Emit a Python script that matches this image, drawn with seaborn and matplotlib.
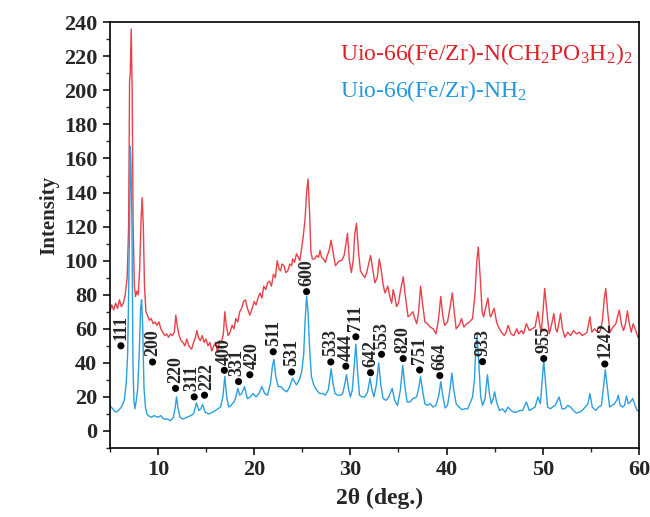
import numpy as np
import pandas as pd
import matplotlib
matplotlib.use('Agg')
import matplotlib.pyplot as plt
import seaborn as sns
from matplotlib.ticker import MultipleLocator

# XRD pattern of Uio-66(Fe/Zr)-NH2 (blue)
nh2_2theta = [5.0, 5.3, 5.6, 5.9, 6.2, 6.5, 6.7, 6.85, 6.95, 7.05, 7.12, 7.2, 7.3, 7.4, 7.5, 7.6,
              7.75, 7.9, 8.05, 8.2, 8.3, 8.42, 8.55, 8.7, 8.85, 9.0, 9.3, 9.6, 10.0, 10.3, 10.6, 11.0,
              11.3, 11.6, 11.8, 11.93, 12.1, 12.3, 12.6, 13.0, 13.4, 13.7, 14.0, 14.25, 14.45, 14.65,
              14.9, 15.3, 15.7, 16.1, 16.5, 16.75, 16.95, 17.15, 17.35, 17.6, 17.9, 18.1, 18.3, 18.5,
              18.7, 19.0, 19.3, 19.6, 19.9, 20.2, 20.5, 20.8, 21.1, 21.4, 21.7, 21.9, 22.05, 22.25,
              22.5, 22.8, 23.1, 23.4, 23.7, 24.0, 24.2, 24.4, 24.7, 24.95, 25.15, 25.3, 25.45, 25.6,
              25.75, 25.95, 26.2, 26.5, 26.8, 27.1, 27.4, 27.7, 27.85, 28.0, 28.2, 28.4, 28.7, 29.0,
              29.2, 29.4, 29.6, 29.8, 30.0, 30.2, 30.4, 30.57, 30.75, 30.95, 31.2, 31.5, 31.8, 32.05,
              32.25, 32.45, 32.7, 32.95, 33.15, 33.4, 33.7, 34.0, 34.35, 34.6, 34.9, 35.2, 35.45,
              35.65, 35.9, 36.2, 36.5, 36.9, 37.1, 37.3, 37.5, 37.75, 38.0, 38.3, 38.6, 38.9, 39.2,
              39.4, 39.6, 39.85, 40.1, 40.35, 40.55, 40.75, 41.0, 41.3, 41.6, 41.9, 42.2, 42.5, 42.7,
              42.9, 43.05, 43.18, 43.35, 43.55, 43.75, 44.0, 44.25, 44.45, 44.65, 44.85, 45.0, 45.2,
              45.5, 45.8, 46.1, 46.4, 46.7, 47.0, 47.3, 47.6, 47.9, 48.3, 48.6, 48.9, 49.2, 49.5,
              49.75, 49.95, 50.1, 50.3, 50.5, 50.8, 51.0, 51.3, 51.7, 52.0, 52.3, 52.6, 52.9, 53.2,
              53.5, 53.8, 54.1, 54.4, 54.7, 54.9, 55.15, 55.5, 55.8, 56.1, 56.3, 56.5, 56.7, 56.95,
              57.2, 57.45, 57.7, 57.85, 58.05, 58.3, 58.5, 58.7, 58.9, 59.1, 59.35, 59.6, 59.8, 60.0]
nh2_intensity = [15, 13, 11, 12, 14, 18, 28, 45, 80, 120, 167, 155, 120, 40, 18, 13,
                 18, 25, 45, 72, 77, 60, 25, 14, 10, 9, 8, 9, 8, 9, 7, 7,
                 6, 8, 14, 20, 13, 8, 7, 8, 9, 10, 16.5, 12, 13, 15.5,
                 11, 10, 11, 12.5, 14, 20, 32, 20, 14, 15, 17, 20, 25, 21,
                 22, 26, 19, 20, 22, 20, 22, 26, 22, 21, 28, 38, 42, 32,
                 26, 26, 24, 23, 26, 31, 29, 27, 30, 35, 45, 65, 79, 70,
                 50, 32, 27, 24, 22, 22, 21, 24, 30, 36.5, 28, 22, 21, 21,
                 22, 27, 33, 25, 20, 24, 38, 51, 35, 21, 20, 20, 23, 31,
                 24, 20, 27, 40, 28, 19, 18, 20, 25, 18, 15, 24, 38.5,
                 27, 17, 17, 19, 20, 25, 32, 24, 16, 15, 16, 14, 15, 21,
                 29, 21, 13.5, 15, 24, 34, 24, 16, 14, 12.5, 13, 13, 17, 20,
                 30, 50, 56, 40, 20, 15, 19, 33, 22, 16, 19, 23, 17,
                 12, 13, 11, 14, 12, 11, 11, 12, 12, 17, 12, 13, 14, 20,
                 16, 30, 41.5, 28, 14, 13, 14, 15, 20, 13, 13, 15, 14, 12,
                 10.5, 11, 12, 14, 16, 22, 14, 12, 14, 15, 25, 36, 26, 14,
                 15, 16, 18, 21, 15, 14, 15, 20.5, 16, 17, 19, 15, 12, 12]

# XRD pattern of Uio-66(Fe/Zr)-N(CH2PO3H2)2 (red)
po3_2theta = [5.0, 5.2, 5.4, 5.6, 5.8, 6.0, 6.2, 6.4, 6.6, 6.8, 6.95, 7.05, 7.12, 7.22, 7.32, 7.42,
              7.55, 7.67, 7.8, 7.95, 8.1, 8.25, 8.36, 8.48, 8.6, 8.75, 8.9, 9.1, 9.3, 9.5, 9.7, 9.9,
              10.1, 10.3, 10.5, 10.7, 10.9, 11.1, 11.3, 11.5, 11.7, 11.86, 12.0, 12.2, 12.4, 12.6,
              12.8, 13.0, 13.2, 13.5, 13.7, 13.9, 14.05, 14.2, 14.4, 14.6, 14.8, 15.0, 15.2, 15.4,
              15.6, 15.8, 16.0, 16.2, 16.4, 16.6, 16.8, 16.95, 17.1, 17.3, 17.5, 17.7, 17.9, 18.1,
              18.3, 18.5, 18.7, 18.9, 19.1, 19.3, 19.55, 19.8, 20.0, 20.2, 20.4, 20.6, 20.8, 21.0,
              21.2, 21.4, 21.6, 21.8, 22.0, 22.2, 22.4, 22.6, 22.75, 22.9, 23.1, 23.3, 23.5, 23.7,
              23.9, 24.0, 24.2, 24.4, 24.6, 24.75, 24.95, 25.1, 25.3, 25.45, 25.6, 25.75, 25.9,
              26.05, 26.3, 26.5, 26.7, 26.85, 27.0, 27.2, 27.4, 27.6, 27.8, 28.0, 28.2, 28.45, 28.7,
              28.9, 29.1, 29.35, 29.55, 29.7, 29.9, 30.1, 30.3, 30.45, 30.64, 30.85, 31.05, 31.2,
              31.5, 31.7, 31.9, 32.1, 32.3, 32.55, 32.8, 33.0, 33.2, 33.4, 33.6, 33.9, 34.1, 34.3,
              34.45, 34.65, 34.8, 35.0, 35.2, 35.5, 35.7, 36.0, 36.2, 36.5, 36.7, 36.9, 37.1, 37.3,
              37.5, 37.75, 38.0, 38.3, 38.6, 38.9, 39.15, 39.4, 39.6, 39.8, 40.1, 40.35, 40.6, 40.8,
              41.0, 41.3, 41.55, 41.8, 42.1, 42.4, 42.7, 42.95, 43.15, 43.3, 43.5, 43.7, 43.85,
              44.05, 44.3, 44.5, 44.6, 44.8, 44.95, 45.2, 45.4, 45.7, 46.0, 46.2, 46.4, 46.7, 47.0,
              47.3, 47.5, 47.8, 48.0, 48.3, 48.6, 48.9, 49.2, 49.5, 49.7, 49.85, 50.05, 50.2, 50.4,
              50.67, 50.9, 51.15, 51.35, 51.5, 51.7, 51.85, 52.05, 52.3, 52.6, 52.9, 53.2, 53.5,
              53.8, 54.1, 54.4, 54.6, 54.9, 55.1, 55.4, 55.7, 56.0, 56.2, 56.4, 56.55, 56.75, 57.0,
              57.3, 57.6, 57.95, 58.2, 58.4, 58.6, 58.8, 59.0, 59.2, 59.4, 59.6, 59.9, 60.0]
po3_intensity = [70, 74, 71, 75, 72, 77, 73, 75, 80, 90, 120, 205, 210, 236, 200, 120,
                 85, 79, 82, 80, 95, 125, 137, 120, 85, 70, 68, 65, 66, 63, 64, 62,
                 64, 60, 58, 56, 57, 55, 57, 56, 58, 68, 62, 56, 53, 52,
                 50, 54, 50, 48, 52, 55, 59, 55, 53, 56, 52, 54, 50, 52,
                 47, 50, 52, 46, 53, 52, 57, 70, 62, 56, 58, 62, 60, 66,
                 64, 70, 72, 76, 77, 72, 68, 72, 76, 74, 78, 81, 78, 85,
                 83, 87, 88, 85, 92, 90, 100, 95, 94, 98, 97, 93, 94, 98,
                 97, 101, 99, 104, 102, 100, 108, 114, 125, 140, 148, 130, 105,
                 101, 101, 103, 102, 106, 102, 101, 99, 103, 106, 112, 105, 97, 99,
                 100, 100, 103, 110, 116, 100, 93, 100, 115, 122, 105, 94, 92.5,
                 90, 93, 98, 103, 96, 87, 90, 101, 95, 86, 81, 85, 79, 75,
                 83, 78, 73, 75, 82, 90.5, 80, 67, 68, 70, 66, 63, 70, 85,
                 75, 64, 63, 61, 60, 57, 65, 79, 68, 62, 64, 72, 81, 70,
                 60, 62, 66, 61, 63, 64, 66, 80, 100, 108, 90, 70, 67,
                 72, 78, 68, 67, 70, 72, 64, 61, 58, 56, 58, 62, 57, 56,
                 60, 57, 59, 57, 63, 59, 60, 61, 70, 62, 58, 72, 83.7, 72,
                 57, 62, 69, 60, 58, 64, 69, 60, 55, 58, 56, 59, 57,
                 58, 56, 57, 58, 67, 58, 60, 58, 59, 65, 78, 83.7, 70, 58,
                 61, 63, 71, 62, 59, 63, 70.5, 63, 58, 63, 60, 55, 55]

# Miller index labels with marker positions
hkl_labels = ['111', '200', '220', '311', '222', '400', '331', '420', '511', '531', '600',
              '533', '444', '711', '642', '553', '820', '751', '664', '933', '955', '1242']
hkl_2theta = [6.15, 9.44, 11.83, 13.77, 14.84, 16.9, 18.38, 19.55, 21.98, 23.9, 25.45,
              27.97, 29.53, 30.57, 32.1, 33.24, 35.49, 37.2, 39.3, 43.74, 50.1, 56.45]
hkl_y = [50, 40.5, 25, 20, 21, 35.6, 29, 33, 46.5, 34.6, 81.8,
         40.5, 38, 55.3, 34.2, 45, 42.5, 35.8, 32.5, 40.7, 42.5, 39.3]

red = '#e8414a'
blue = '#2a9fe0'

sns.set_style('ticks')
plt.rcParams['font.family'] = ['Liberation Serif', 'DejaVu Serif']
plt.rcParams['mathtext.fontset'] = 'custom'
plt.rcParams['mathtext.rm'] = 'Liberation Serif'
plt.rcParams['mathtext.it'] = 'Liberation Serif:italic'

fig = plt.figure(figsize=(6.5, 5.17), dpi=100)
ax = fig.add_axes([0.169, 0.1335, 0.814, 0.8235])

df_nh2 = pd.DataFrame({'x': nh2_2theta, 'y': nh2_intensity})
df_po3 = pd.DataFrame({'x': po3_2theta, 'y': po3_intensity})
sns.lineplot(data=df_po3, x='x', y='y', color=red, lw=1.0, estimator=None, ax=ax)
sns.lineplot(data=df_nh2, x='x', y='y', color=blue, lw=1.0, estimator=None, ax=ax)

df_hkl = pd.DataFrame({'x': hkl_2theta, 'y': hkl_y})
sns.scatterplot(data=df_hkl, x='x', y='y', color='black', s=26, edgecolor='none', ax=ax, zorder=5)
# small horizontal nudges for the crowded pairs
nudge = {'311': -1.5, '222': 1.5, '331': -1.5, '420': 1.5}
for lab, xv, yv in zip(hkl_labels, hkl_2theta, hkl_y):
    ax.annotate(lab, (xv, yv), xytext=(nudge.get(lab, 0), 4), textcoords='offset points',
                rotation=90, ha='center', va='bottom', fontsize=13, fontweight='bold')

ax.text(0.435, 0.911, 'Uio-66(Fe/Zr)-N(CH$_2$PO$_3$H$_2$)$_2$', color='#e02028',
        fontsize=17, transform=ax.transAxes, va='baseline', ha='left')
ax.text(0.435, 0.825, 'Uio-66(Fe/Zr)-NH$_2$', color='#2299e0',
        fontsize=17, transform=ax.transAxes, va='baseline', ha='left')

ax.set_xlim(5, 60)
ax.set_ylim(-10, 240)
ax.xaxis.set_major_locator(MultipleLocator(10))
ax.xaxis.set_minor_locator(MultipleLocator(5))
ax.yaxis.set_major_locator(MultipleLocator(20))
ax.yaxis.set_minor_locator(MultipleLocator(10))
ax.tick_params(which='major', direction='out', length=5, width=1.1, labelsize=16, pad=4,
               top=False, right=False, color='black')
ax.tick_params(which='minor', direction='out', length=3, width=1.0, top=False, right=False)
for lbl in ax.get_xticklabels() + ax.get_yticklabels():
    lbl.set_fontweight('bold')
for sp in ax.spines.values():
    sp.set_linewidth(1.2)
    sp.set_color('black')

ax.set_xlabel('2θ (deg.)', fontsize=17, fontweight='bold')
ax.set_ylabel('Intensity', fontsize=15, fontweight='bold')
ax.xaxis.set_label_coords(0.51, -0.094)
ax.yaxis.set_label_coords(-0.095, 0.547)

fig.savefig('out.png', dpi=100)
